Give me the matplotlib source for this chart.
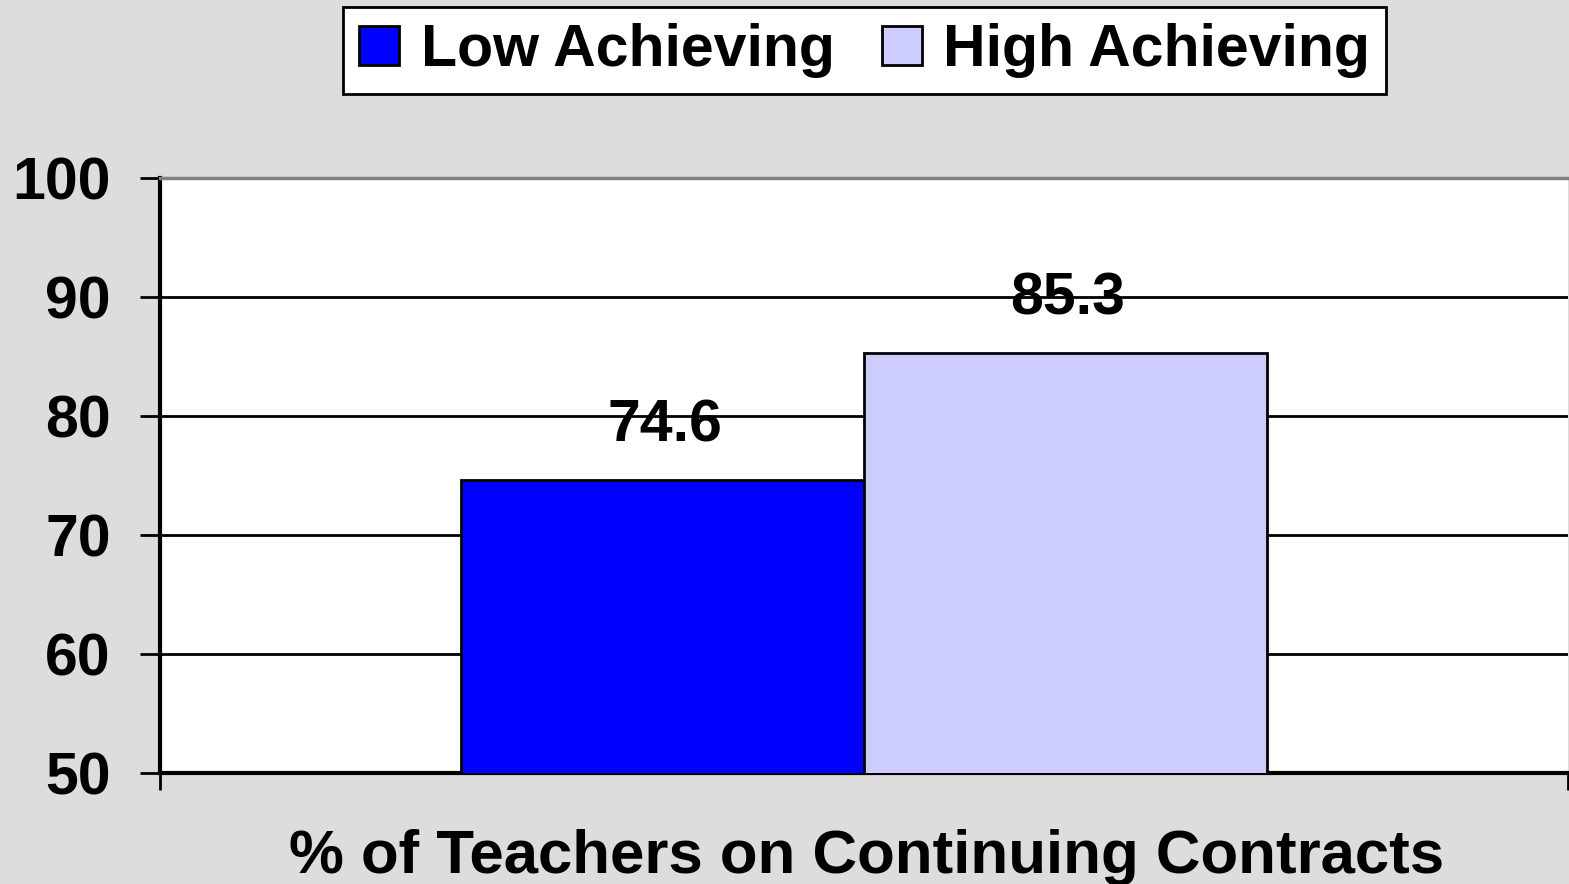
import matplotlib.pyplot as plt

# data
category = ['% of Teachers on Continuing Contracts']
groups = ['Low Achieving', 'High Achieving']
values = [74.6, 85.3]
colors = ['#0000FF', '#CCCCFF']
yticks = [50, 60, 70, 80, 90, 100]

plt.rcParams['font.family'] = ['Liberation Sans', 'DejaVu Sans']
plt.rcParams['font.weight'] = 'bold'
FS = 42.5

W, H = 1569, 884
fig = plt.figure(figsize=(W / 100, H / 100), dpi=100, facecolor='#DDDDDD')
ax = fig.add_axes([160 / W, 111 / H, 1408 / W, 595 / H])
ax.set_facecolor('white')

width = 0.2862
for i in range(len(groups)):
    x = (i - 0.5) * width
    ax.bar(x, values[i], width, color=colors[i], edgecolor='black',
           linewidth=2, label=groups[i], zorder=3)
    ax.annotate(f'{values[i]}', (x, values[i]), xytext=(1.5, 39),
                textcoords='offset points', ha='center', va='center',
                fontsize=FS, fontweight='bold')

ax.set_xlim(-0.5, 0.5)
ax.set_ylim(50, 100)
ax.set_yticks(yticks)
ax.set_yticklabels([str(t) for t in yticks], fontsize=FS, fontweight='bold')
ax.set_xticks([-0.5, 0.5])
ax.set_xticklabels(['', ''])
ax.tick_params(axis='y', length=14.4, width=2, pad=21, colors='black')
ax.tick_params(axis='x', length=12, width=2)

ax.set_axisbelow(True)
ax.grid(axis='y', color='black', linewidth=2)
ax.spines['top'].set_color('#808080')
ax.spines['top'].set_linewidth(2.5)
ax.spines['right'].set_visible(False)
ax.spines['left'].set_linewidth(3)
ax.spines['bottom'].set_linewidth(3)
ax.spines['top'].set_zorder(4)

fig.text(867 / W, 1 - 858 / H, category[0], ha='center', va='center',
         fontsize=44.5, fontweight='bold')

leg = fig.legend(loc='center', bbox_to_anchor=(864.5 / W, 1 - 50.5 / H), ncol=2,
                 fontsize=FS, frameon=True, fancybox=False, edgecolor='black',
                 facecolor='white', framealpha=1, handlelength=0.68,
                 handleheight=0.63, handletextpad=0.36, columnspacing=0.8,
                 borderpad=0.27, borderaxespad=0)
leg.get_frame().set_linewidth(2)

fig.savefig('out.png', dpi=100, facecolor=fig.get_facecolor())
